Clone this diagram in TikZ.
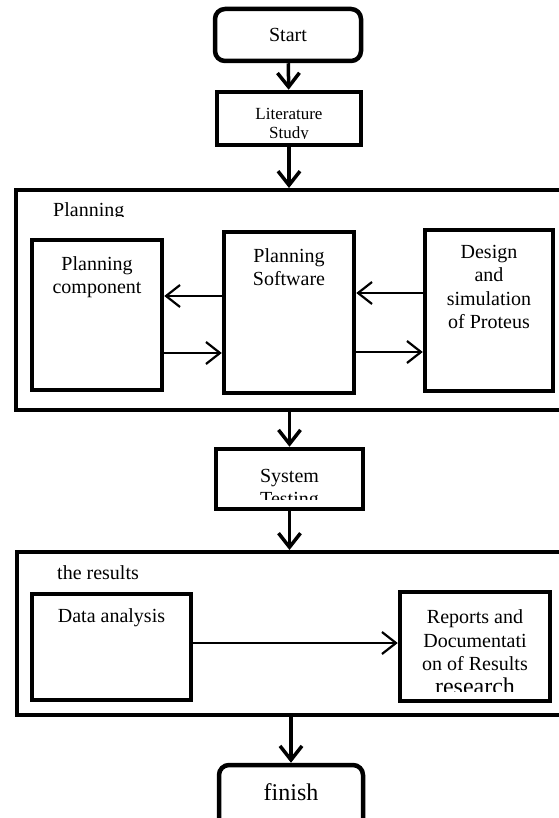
\documentclass[tikz,border=0pt]{standalone}
\usepackage{fontspec}
\setmainfont{Liberation Serif}
\usetikzlibrary{arrows.meta,positioning}
\tikzset{
  every node/.style={font=\fontsize{20}{23.5}\selectfont},
  box/.style={draw, rectangle, line width=4.5pt, inner sep=0pt},
  term/.style={box, rounded corners=10pt},
  frame/.style={draw, rectangle, line width=4pt, inner sep=0pt},
  txt/.style={align=center, anchor=base, inner sep=0pt},
  arrow/.style={-{Straight Barb[length=14pt,width=22pt]}, line width=3.5pt},
  harrow/.style={-{Straight Barb[length=14pt,width=22pt]}, line width=2.2pt}
}
\begin{document}
\begin{tikzpicture}[x=1pt, y=-1pt]
\useasboundingbox (0,0) rectangle (558,818);

% Top: start and literature
\node[term, minimum width=146pt, minimum height=52pt] (start) at (288,35) {Start};
\node[box, minimum width=144pt, minimum height=53pt] (lit) at (289,118.5) {};
\begin{scope}
  \clip (219,94) rectangle (359,139);
  \node[txt, font=\fontsize{17}{18.5}\selectfont] (litT) at (289,138.5) {Literature\\Study};
\end{scope}

% Planning block
\node[frame, minimum width=559pt, minimum height=220pt] (plan) at (295.5,300) {};
\begin{scope}
  \clip (18,192) rectangle (300,217);
  \node[anchor=base west, inner sep=0pt] (planT) at (53,216) {Planning};
\end{scope}
\node[box, minimum width=130pt, minimum height=150pt] (comp) at (97,315) {};
\node[box, minimum width=130pt, minimum height=161pt] (soft) at (289,312.5) {};
\node[box, minimum width=128pt, minimum height=161pt] (design) at (489,310.5) {};
% last line baselines
\node[txt] (compT) at (97,293.5) {Planning\\component};
\node[txt] (softT) at (289,285.5) {Planning\\Software};
\node[txt] (designT) at (489,328.5) {Design\\and\\simulation\\of Proteus};

% Test block
\node[box, minimum width=147pt, minimum height=60pt] (sys) at (289.5,479) {};
\begin{scope}
  \clip (218,451) rectangle (361,499.5);
  \node[txt] (sysT) at (289.5,505.5) {System\\Testing};
\end{scope}

% Results block
\node[frame, minimum width=558pt, minimum height=163pt] (res) at (296,633.5) {};
\node[anchor=base west, inner sep=0pt] (resT) at (57,579) {the results};
\node[box, minimum width=159pt, minimum height=106pt] (data) at (111.5,647) {};
\node[box, minimum width=150pt, minimum height=109pt] (rep) at (475,646.5) {};
\node[txt] (dataT) at (111.5,622) {Data analysis};
\begin{scope}
  \clip (402,594) rectangle (548,691);
  \node[txt] (repT) at (475,694) {Reports and\\Documentati\\on of Results\\{\fontsize{24}{24}\selectfont research}};
\end{scope}

% End
\node[term, minimum width=144pt, minimum height=70pt] (fin) at (291,800) {};
\node[txt, font=\fontsize{24}{24}\selectfont] (finT) at (291,800) {finish};

% Vertical flow
\draw[arrow] (start) -- (lit);
\draw[arrow] (lit.south) -- (lit.south |- plan.north);
\draw[arrow] (sys.north |- plan.south) -- (sys.north);
\draw[arrow] (sys.south) -- (sys.south |- res.north);
\draw[arrow] (fin.north |- res.south) -- (fin.north);

% Arrows inside the blocks
\coordinate (sc) at ([yshift=16.5pt]soft.west);
\coordinate (ds) at ([yshift=17.5pt]design.west);
\coordinate (cs) at ([yshift=-38pt]comp.east);
\coordinate (sd) at ([yshift=-39.5pt]soft.east);
\coordinate (dr) at ([yshift=4pt]data.east);
\draw[harrow] (sc) -- (sc -| comp.east);
\draw[harrow] (ds) -- (ds -| soft.east);
\draw[harrow] (cs) -- (cs -| soft.west);
\draw[harrow] (sd) -- (sd -| design.west);
\draw[harrow] (dr) -- (dr -| rep.west);

\end{tikzpicture}
\end{document}
